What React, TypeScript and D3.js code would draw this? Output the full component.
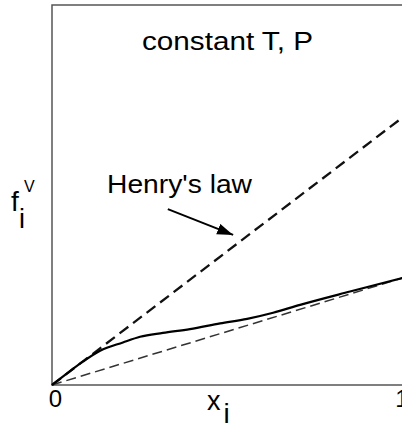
import * as d3 from "d3";
import React, { useEffect, useRef } from "react";

// mole fraction x_i vs vapour fugacity f_i^v (normalised axes)
const henryK = 0.705; // Henry's law slope
const pureF = 0.282; // f_i of pure i (Lewis/Randall line end)

const xDomain = [0, 1];
const xTicks = ["0", "1"];

const curveX = [0, 0.042, 0.089, 0.137, 0.202, 0.251, 0.316, 0.393, 0.479, 0.556, 0.63, 0.707, 0.849, 1.0];
const curveF = [0, 0.03, 0.062, 0.09, 0.112, 0.127, 0.137, 0.147, 0.162, 0.174, 0.19, 0.211, 0.246, 0.282];

// arrow from label to the Henry's law line, in data units
const arrowFrom = [0.33, 0.463];
const arrowTo = [0.516, 0.395];

const W = 402;
const H = 424;

export default function App() {
  const svgRef = useRef<SVGSVGElement>(null);

  useEffect(() => {
    const svg = d3.select(svgRef.current);
    svg.selectAll("*").remove();

    const x = d3.scaleLinear().domain(xDomain).range([52, 403]);
    const y = d3.scaleLinear().domain([0, 1]).range([385, 5]);

    const font = "'Liberation Sans', Arial, sans-serif";

    svg
      .append("defs")
      .append("marker")
      .attr("id", "head")
      .attr("markerUnits", "userSpaceOnUse")
      .attr("markerWidth", 18)
      .attr("markerHeight", 12)
      .attr("refX", 16)
      .attr("refY", 5.5)
      .attr("orient", "auto")
      .append("path")
      .attr("d", "M0,0 L16,5.5 L0,11 Z")
      .attr("fill", "#000");

    // frame (right side runs off the picture)
    svg
      .append("path")
      .attr("d", `M${W + 10},${y(1)} H${x(0)} V${y(0)} H${W + 10}`)
      .attr("fill", "none")
      .attr("stroke", "#555")
      .attr("stroke-width", 1.5);

    const line = d3
      .line<[number, number]>()
      .x((d) => x(d[0]))
      .y((d) => y(d[1]));

    // Henry's law
    svg
      .append("path")
      .datum([[0, 0], [1, henryK]] as [number, number][])
      .attr("d", line)
      .attr("fill", "none")
      .attr("stroke", "#111")
      .attr("stroke-width", 2.3)
      .attr("stroke-dasharray", "11,6");

    // ideal solution (Lewis/Randall)
    svg
      .append("path")
      .datum([[0, 0], [1, pureF]] as [number, number][])
      .attr("d", line)
      .attr("fill", "none")
      .attr("stroke", "#333")
      .attr("stroke-width", 1.5)
      .attr("stroke-dasharray", "10,5");

    // real fugacity
    const pts = curveX.map((v, i) => [v, curveF[i]] as [number, number]);
    svg
      .append("path")
      .datum(pts)
      .attr("d", line.curve(d3.curveMonotoneX))
      .attr("fill", "none")
      .attr("stroke", "#000")
      .attr("stroke-width", 2.2);

    // arrow
    svg
      .append("line")
      .attr("x1", x(arrowFrom[0]))
      .attr("y1", y(arrowFrom[1]))
      .attr("x2", x(arrowTo[0]))
      .attr("y2", y(arrowTo[1]))
      .attr("stroke", "#000")
      .attr("stroke-width", 2)
      .attr("marker-end", "url(#head)");

    // x tick labels
    svg
      .selectAll(".tick")
      .data(xTicks)
      .enter()
      .append("text")
      .attr("class", "tick")
      .attr("x", (d, i) => x(xDomain[i]) + (i === 0 ? 3.5 : -1))
      .attr("y", 407)
      .attr("text-anchor", "middle")
      .attr("font-family", font)
      .attr("font-size", 24)
      .text((d) => d);

    const txt = (s: string, tx: number, ty: number, size: number, len?: number) => {
      const t = svg
        .append("text")
        .attr("x", tx)
        .attr("y", ty)
        .attr("font-family", font)
        .attr("font-size", size)
        .attr("fill", "#000")
        .text(s);
      if (len) t.attr("textLength", len).attr("lengthAdjust", "spacingAndGlyphs");
      return t;
    };

    txt("constant T, P", 142, 50, 25, 171);
    txt("Henry's law", 107, 193, 25, 145);

    // axis labels
    txt("x", 207, 410, 27);
    txt("i", 223.5, 423, 28);
    txt("f", 11, 211, 28);
    txt("V", 24, 191.5, 16);
    txt("i", 19, 228, 27);
  }, []);

  return (
    <div>
      <svg
        ref={svgRef}
        width={W}
        height={H}
        style={{ position: "absolute", left: 0, top: 0, background: "#fff" }}
      ></svg>
    </div>
  );
}
